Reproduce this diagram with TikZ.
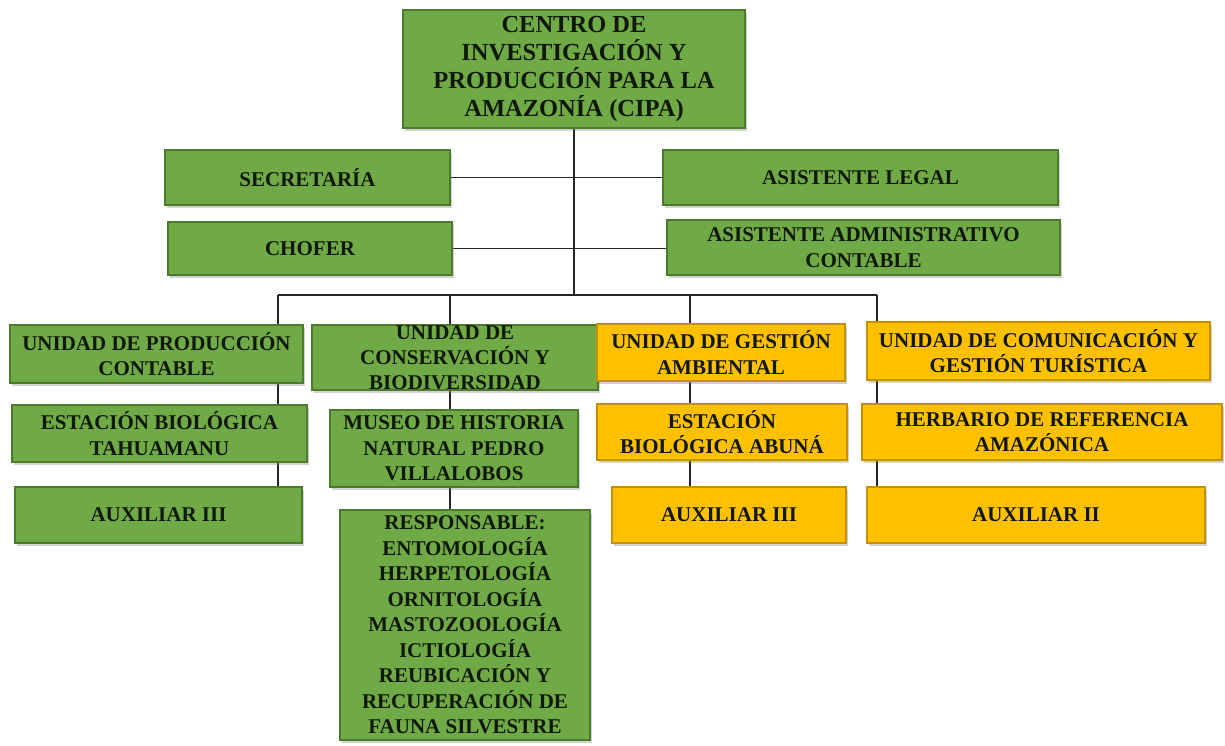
\documentclass[tikz,border=0pt]{standalone}
\usepackage{fontspec}
\setmainfont{Liberation Serif}
\usetikzlibrary{shadows,backgrounds}
\definecolor{boxgreen}{RGB}{112,170,70}
\definecolor{greenedge}{RGB}{78,122,46}
\definecolor{boxgold}{RGB}{255,192,0}
\definecolor{goldedge}{RGB}{196,144,0}
\definecolor{ink}{RGB}{16,24,10}
\tikzset{
 base/.style={rectangle, inner sep=0pt, align=center, text=ink,
   font=\fontsize{21}{25.5}\selectfont\bfseries, line width=1.2pt,
   drop shadow={opacity=0.35, shadow xshift=1.5pt, shadow yshift=-2.5pt}},
 gbox/.style={base, fill=boxgreen, draw=greenedge},
 ybox/.style={base, fill=boxgold, draw=goldedge},
 link/.style={line width=1.4pt, black!85}
}
\begin{document}
\begin{tikzpicture}[x=1pt,y=-1pt]
\useasboundingbox (0,0) rectangle (1225,745);
% level 0
\node[gbox, minimum width=342, minimum height=118, font=\fontsize{24.5}{28}\selectfont\bfseries] (cipa) at (574,69)
  {CENTRO DE\\INVESTIGACIÓN  Y\\PRODUCCIÓN PARA LA\\AMAZONÍA  (CIPA)};
% staff
\node[gbox, minimum width=285, minimum height=55] (sec) at (307.5,177.5) {SECRETARÍA};
\node[gbox, minimum width=395, minimum height=55] (leg) at (860.5,177.5) {ASISTENTE LEGAL};
\node[gbox, minimum width=284, minimum height=53] (cho) at (310,248.5) {CHOFER};
\node[gbox, minimum width=393, minimum height=55] (adm) at (863.5,247.5) {ASISTENTE ADMINISTRATIVO\\CONTABLE};
% units
\node[gbox, minimum width=293, minimum height=58] (u1) at (156.5,354) {UNIDAD DE PRODUCCIÓN\\CONTABLE};
\node[gbox, minimum width=286, minimum height=65,
  label={[align=center, text=ink, font=\fontsize{21}{25}\selectfont\bfseries]center:UNIDAD DE\\CONSERVACIÓN Y\\BIODIVERSIDAD}] (u2) at (455,357.5) {};
\node[ybox, minimum width=248, minimum height=57] (u3) at (721,352.5) {UNIDAD DE GESTIÓN\\AMBIENTAL};
\node[ybox, minimum width=343, minimum height=58] (u4) at (1038.5,351) {UNIDAD DE COMUNICACIÓN Y\\GESTIÓN TURÍSTICA};
% level 3
\node[gbox, minimum width=295, minimum height=57] (tah) at (159.5,433.5) {ESTACIÓN BIOLÓGICA\\TAHUAMANU};
\node[gbox, minimum width=248, minimum height=77] (mus) at (454,448.5) {MUSEO DE HISTORIA\\NATURAL PEDRO\\VILLALOBOS};
\node[ybox, minimum width=250, minimum height=56] (abu) at (722,432) {ESTACIÓN\\BIOLÓGICA ABUNÁ};
\node[ybox, minimum width=360, minimum height=56] (her) at (1042,432) {HERBARIO DE REFERENCIA\\AMAZÓNICA};
% level 4
\node[gbox, minimum width=287, minimum height=56] (ax1) at (158.5,515) {AUXILIAR III};
\node[gbox, minimum width=250, minimum height=230] (res) at (465,625)
  {RESPONSABLE:\\ENTOMOLOGÍA\\HERPETOLOGÍA\\ORNITOLOGÍA\\MASTOZOOLOGÍA\\ICTIOLOGÍA\\REUBICACIÓN Y\\RECUPERACIÓN DE\\FAUNA SILVESTRE};
\node[ybox, minimum width=234, minimum height=56] (ax3) at (729,515) {AUXILIAR III};
\node[ybox, minimum width=338, minimum height=56] (ax2) at (1036,515) {AUXILIAR II};
% connectors
\coordinate (d1) at (278,295);
\coordinate (d2) at (450,295);
\coordinate (d3) at (690,295);
\coordinate (d4) at (877,295);
\begin{pgfonlayer}{background}
\fill[white] (0,0) rectangle (1225,745);
\draw[link] (cipa.south) -- (cipa.south |- d1);
\draw[link] (sec.east) -- (leg.west);
\draw[link] (cho.east) -- (cho.east -| adm.west);
\draw[link] (d1) -- (d4);
\draw[link] (d1) -- (d1 |- u1.north);
\draw[link] (d2) -- (d2 |- u2.north);
\draw[link] (d3) -- (d3 |- u3.north);
\draw[link] (d4) -- (d4 |- u4.north);
\draw[link] (u1.south -| d1) -- (tah.north -| d1);
\draw[link] (tah.south -| d1) -- (ax1.north -| d1);
\draw[link] (u2.south -| d2) -- (mus.north -| d2);
\draw[link] (mus.south -| d2) -- (res.north -| d2);
\draw[link] (u3.south -| d3) -- (abu.north -| d3);
\draw[link] (abu.south -| d3) -- (ax3.north -| d3);
\draw[link] (u4.south -| d4) -- (her.north -| d4);
\draw[link] (her.south -| d4) -- (ax2.north -| d4);
\end{pgfonlayer}
\end{tikzpicture}
\end{document}
